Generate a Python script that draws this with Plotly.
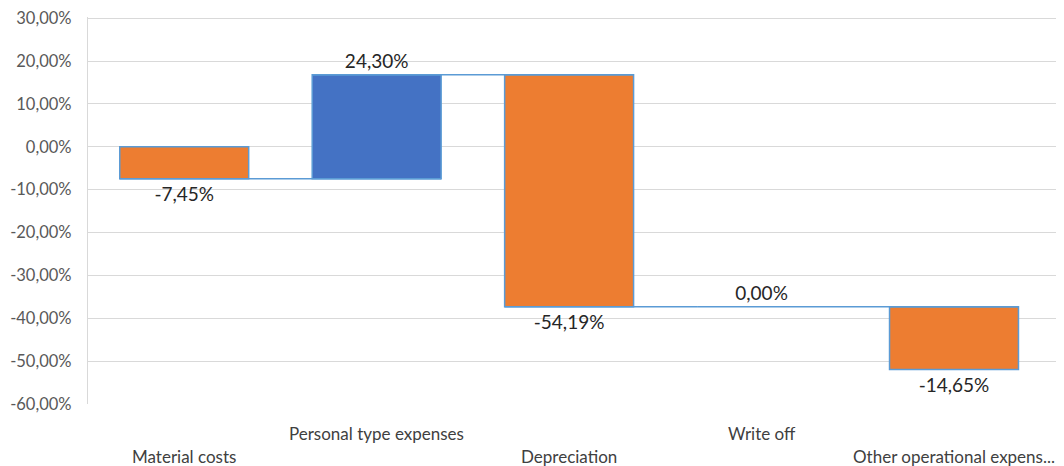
import plotly.graph_objects as go

categories = ["Material costs", "Personal type expenses", "Depreciation", "Write off", "Other operational expens..."]
values = [-7.45, 24.30, -54.19, 0.00, -14.65]
tick_vals = [30, 20, 10, 0, -10, -20, -30, -40, -50, -60]

def fmt(v):
    return ("%.2f%%" % v).replace(".", ",")

labels = [fmt(v) for v in values]
tick_text = [fmt(v) for v in tick_vals]

FONT = "Lato, 'Open Sans', sans-serif"
BORDER = "#5B9BD5"

fig = go.Figure(go.Waterfall(
    x=categories,
    y=values,
    measure=["relative"] * len(values),
    text=labels,
    textposition="outside",
    textfont=dict(family=FONT, size=19, color="#262626"),
    cliponaxis=False,
    increasing=dict(marker=dict(color="#4472C4", line=dict(color=BORDER, width=1.5))),
    decreasing=dict(marker=dict(color="#ED7D31", line=dict(color=BORDER, width=1.5))),
    totals=dict(marker=dict(color="#A5A5A5", line=dict(color=BORDER, width=1.5))),
    connector=dict(line=dict(color=BORDER, width=1.5), mode="spanning"),
    hoverinfo="skip",
))

# window pixel rows of the plot area (page body adds an 8px offset)
plot_top, plot_bottom = 16.7, 404
label_rows = [457, 434, 457, 434, 457]
annotations = []
for c, py in zip(categories, label_rows):
    annotations.append(dict(
        x=c, xref="x", y=(plot_bottom - py) / (plot_bottom - plot_top), yref="paper",
        text=c, showarrow=False,
        font=dict(family=FONT, size=17, color="#404040"),
        xanchor="center", yanchor="middle",
    ))

fig.update_layout(
    width=1056, height=458,
    margin=dict(l=80, r=7, t=8.7, b=62, autoexpand=False),
    paper_bgcolor="white", plot_bgcolor="white",
    separators=",.",
    showlegend=False,
    waterfallgap=0.33,
    font=dict(family=FONT, size=17, color="#595959"),
    xaxis=dict(showticklabels=False, showgrid=False, zeroline=False, showline=False,
               automargin=False),
    yaxis=dict(
        range=[-60.02, 30.3], tickvals=tick_vals, ticktext=tick_text,
        showgrid=True, gridcolor="#D9D9D9", gridwidth=1.3,
        zeroline=False, showline=True, linecolor="#D9D9D9", linewidth=1.3,
        tickfont=dict(family=FONT, size=16.5, color="#595959"),
        ticks="", ticklabelstandoff=12, automargin=False,
        ticklabeloverflow="allow",
    ),
    annotations=annotations,
)

fig.write_html("out.html")
